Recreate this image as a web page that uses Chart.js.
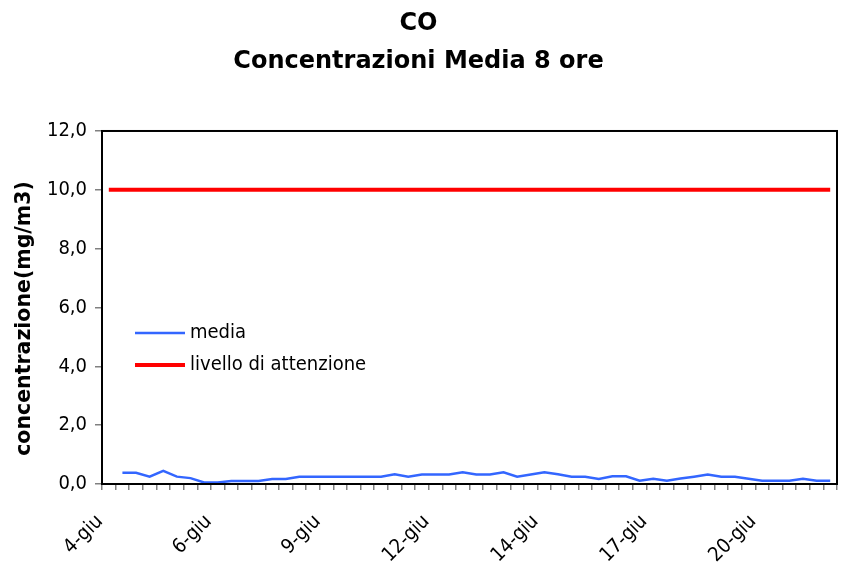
<!DOCTYPE html>
<html>
<head>
<meta charset="utf-8">
<script src="https://cdn.jsdelivr.net/npm/chart.js@4"></script>
<style>
  body { margin: 0; background: #fff; }
  #wrap { width: 843px; height: 573px; }
</style>
</head>
<body>
<div id="wrap"><canvas id="chart"></canvas></div>
<script>
'use strict';
// categories: one slot every 8 hours, 3 per day, from 4-giu to 21-giu
let days = ['4-giu', '5-giu', '6-giu', '7-giu', '8-giu', '9-giu', '10-giu', '11-giu', '12-giu',
  '13-giu', '14-giu', '15-giu', '16-giu', '17-giu', '18-giu', '19-giu', '20-giu', '21-giu'];
let slots = [];
for (let i = 0; i < days.length; i++) {
  slots.push(days[i], days[i], days[i]);
}
// 8 hour average CO (mg/m3), first slot empty
let media = [null,
  0.38, 0.38, 0.25, 0.45, 0.25, 0.2, 0.05, 0.05, 0.1, 0.1,
  0.1, 0.17, 0.17, 0.25, 0.25, 0.25, 0.25, 0.25, 0.25, 0.25,
  0.33, 0.25, 0.32, 0.32, 0.32, 0.4, 0.32, 0.32, 0.4, 0.25,
  0.32, 0.4, 0.33, 0.25, 0.25, 0.17, 0.26, 0.26, 0.11, 0.18,
  0.11, 0.19, 0.25, 0.32, 0.25, 0.25, 0.18, 0.11, 0.11, 0.11,
  0.18, 0.11, 0.11];
let attenzione = [];
for (let i = 0; i < slots.length; i++) {
  attenzione.push(10);
}
let yTicks = [0, 2, 4, 6, 8, 10, 12];
let labelEvery = 8;
let yTitle = 'concentrazione(mg/m3)';

let tickFont = { family: 'DejaVu Sans Condensed', size: 20 };

// draws the frame round the plot area, the y title and the legend inside the plot
let framePlugin = {
  id: 'frame',
  afterDatasetsDraw(chart) {
    let ctx = chart.ctx;
    let a = chart.chartArea;
    ctx.save();
    ctx.strokeStyle = '#000';
    ctx.lineWidth = 2;
    ctx.strokeRect(a.left, a.top, a.right - a.left, a.bottom - a.top);

    // y axis title, Excel puts it a bit below the plot centre
    ctx.save();
    ctx.translate(25, (a.top + a.bottom) / 2 + 11);
    ctx.rotate(-Math.PI / 2);
    ctx.font = 'bold 20.5px "DejaVu Sans"';
    ctx.textAlign = 'center';
    ctx.textBaseline = 'middle';
    ctx.fillStyle = '#000';
    ctx.fillText(yTitle, 0, 0);
    ctx.restore();

    // legend
    let items = chart.data.datasets;
    let x = a.left + 33;
    let y = a.top + 202;
    ctx.font = '20px "DejaVu Sans Condensed"';
    ctx.textBaseline = 'middle';
    ctx.fillStyle = '#000';
    for (let i = 0; i < items.length; i++) {
      ctx.strokeStyle = items[i].borderColor;
      ctx.lineWidth = items[i].borderWidth;
      ctx.beginPath();
      ctx.moveTo(x, y + i * 32);
      ctx.lineTo(x + 50, y + i * 32);
      ctx.stroke();
      ctx.fillText(items[i].label, x + 55, y + i * 32);
    }
    ctx.restore();
  }
};

new Chart(document.getElementById('chart'), {
  type: 'line',
  data: {
    labels: slots,
    datasets: [
      {
        label: 'media',
        data: media,
        borderColor: '#3366FF',
        borderWidth: 2.5,
        pointRadius: 0,
        tension: 0
      },
      {
        label: 'livello di attenzione',
        data: attenzione,
        borderColor: '#FF0000',
        borderWidth: 4,
        pointRadius: 0,
        tension: 0
      }
    ]
  },
  options: {
    responsive: true,
    maintainAspectRatio: false,
    animation: false,
    layout: { padding: { top: 0, right: 6, bottom: 0, left: 0 } },
    plugins: {
      legend: { display: false },
      tooltip: { enabled: false },
      title: {
        display: true,
        text: ['CO', 'Concentrazioni Media 8 ore'],
        color: '#000',
        font: { family: 'DejaVu Sans', size: 24, weight: 'bold', lineHeight: 1.583 },
        padding: { top: 5, bottom: 50 }
      }
    },
    scales: {
      x: {
        offset: true,
        afterFit(scale) {
          scale.height = 89;
          scale.paddingLeft = 0;
          scale.paddingRight = 0;
        },
        border: { display: true, color: '#000', width: 2 },
        grid: { offset: true, drawOnChartArea: false, drawTicks: true, tickLength: 6, color: '#808080', lineWidth: 1.5 },
        ticks: {
          autoSkip: false,
          minRotation: 45,
          maxRotation: 45,
          color: '#000',
          font: tickFont,
          padding: 20,
          labelOffset: -9,
          callback: function (value, index) {
            return index % labelEvery === 0 ? this.getLabelForValue(value) : '';
          }
        }
      },
      y: {
        min: yTicks[0],
        max: yTicks[yTicks.length - 1],
        afterFit(scale) { scale.width = 102; },
        afterBuildTicks(scale) { scale.ticks = yTicks.map(v => ({ value: v })); },
        border: { display: true, color: '#000', width: 2 },
        grid: { drawOnChartArea: false, drawTicks: true, tickLength: 7, color: '#808080', lineWidth: 1.5 },
        ticks: {
          color: '#000',
          font: tickFont,
          padding: 8,
          callback: v => v.toFixed(1).replace('.', ',')
        }
      }
    }
  },
  plugins: [framePlugin]
});
</script>
</body>
</html>
